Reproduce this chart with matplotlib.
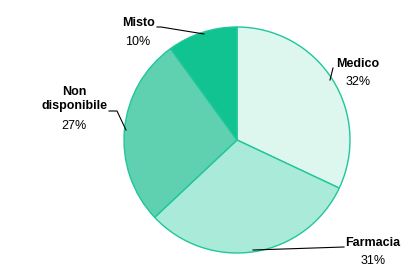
import matplotlib

matplotlib.use("Agg")
import matplotlib.pyplot as plt

# slice data, clockwise from 12 o'clock
labels = ["Medico", "Farmacia", "Non\ndisponibile", "Misto"]
shares = [32, 31, 27, 10]
colors = ["#DDF6EE", "#A9EAD9", "#5FD1B1", "#12C392"]

plt.rcParams["font.family"] = ["Liberation Sans", "DejaVu Sans"]

W, H = 415, 279
fig = plt.figure(figsize=(W / 100, H / 100), dpi=100)
ax = fig.add_axes([0, 0, 1, 1])

cx, cy, r = 237, H - 140, 113
ax.pie(
    shares,
    colors=colors,
    startangle=90,
    counterclock=False,
    center=(cx, cy),
    radius=r,
    frame=True,
    wedgeprops={"edgecolor": "#1FC79B", "linewidth": 1.0},
)
ax.set_xlim(0, W)
ax.set_ylim(0, H)
ax.set_aspect("equal")
ax.axis("off")

# label placements in image pixels (name centre x, name y, pct y)
label_pos = [(358, 64, 82), (373, 243, 261), (74, 99, 126), (138, 23, 42)]
leaders = [
    [(330, 80), (333, 68)],
    [(253, 250), (344, 247)],
    [(109, 111), (117, 111), (126, 130)],
    [(157, 27), (161, 27), (204, 34)],
]

for name, pct, (tx, ny, py), line in zip(labels, shares, label_pos, leaders):
    ax.text(tx, H - ny, name, ha="center", va="center", fontsize=9,
            fontweight="bold", linespacing=1.2)
    ax.text(tx, H - py, f"{pct}%", ha="center", va="center", fontsize=9)
    xs = [p[0] for p in line]
    ys = [H - p[1] for p in line]
    ax.plot(xs, ys, color="black", linewidth=0.8)

fig.savefig("out.png", dpi=100)
